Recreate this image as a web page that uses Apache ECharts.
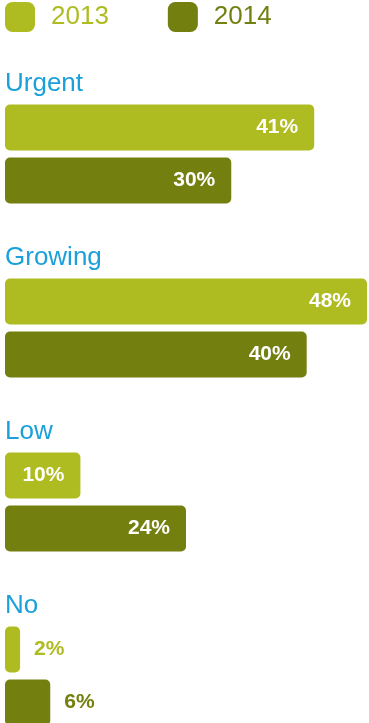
<!DOCTYPE html>
<html>
<head>
<meta charset="utf-8">
<style>
  html, body { margin: 0; padding: 0; background: #ffffff; }
  #chart { width: 369px; height: 723px; }
</style>
<script src="https://cdn.jsdelivr.net/npm/echarts@6/dist/echarts.min.js"></script>
</head>
<body>
<div id="chart"></div>
<script>
// Answers per urgency level, share of respondents (%)
const categories = ['Urgent', 'Growing', 'Low', 'No'];
const years = ['2013', '2014'];
const values2013 = [41, 48, 10, 2];
const values2014 = [30, 40, 24, 6];

const colors = { '2013': '#afbc21', '2014': '#737f0f' };
const categoryColor = '#1ba0da';
const fontFamily = '"Liberation Sans", Arial, Helvetica, sans-serif';

// Short bars get their value written beside them in the bar colour
function buildData(values, color) {
  return values.map(v => {
    if (v < 8) {
      return {
        value: v,
        label: { position: 'right', color: color, distance: 14 }
      };
    }
    return v;
  });
}

function makeSeries(name, values) {
  return {
    name: name,
    type: 'bar',
    data: buildData(values, colors[name]),
    barWidth: 46,
    barGap: '15%',
    itemStyle: { color: colors[name], borderRadius: 5 },
    label: {
      show: true,
      position: 'insideRight',
      distance: 16,
      formatter: '{c}%',
      color: '#ffffff',
      fontFamily: fontFamily,
      fontWeight: 'bold',
      fontSize: 21
    },
    emphasis: { disabled: true },
    animation: false
  };
}

const chart = echarts.init(document.getElementById('chart'), null, { renderer: 'canvas' });
chart.setOption({
  animation: false,
  legend: {
    left: 5,
    top: 2,
    padding: 0,
    itemWidth: 30,
    itemHeight: 30,
    itemGap: 59,
    icon: 'roundRect',
    selectedMode: false,
    textStyle: { fontFamily: fontFamily, fontSize: 26, padding: [0, 0, 0, 11] },
    data: years.map(y => ({ name: y, textStyle: { color: colors[y] } }))
  },
  // the last group runs past the bottom edge, so the grid extends below it
  grid: {
    left: 5, right: 2, top: 67, height: 696,
    containLabel: false,
    outerBoundsMode: 'none'
  },
  xAxis: { type: 'value', min: 0, max: 48, show: false },
  yAxis: {
    type: 'category',
    inverse: true,
    data: categories,
    axisLine: { show: false },
    axisTick: { show: false },
    splitLine: { show: false },
    axisLabel: {
      inside: true,
      margin: 0,
      align: 'left',
      verticalAlign: 'bottom',
      lineHeight: 26,
      padding: [0, 0, 57, 0],
      color: categoryColor,
      fontFamily: fontFamily,
      fontSize: 26
    }
  },
  series: [makeSeries('2013', values2013), makeSeries('2014', values2014)]
});
</script>
</body>
</html>
